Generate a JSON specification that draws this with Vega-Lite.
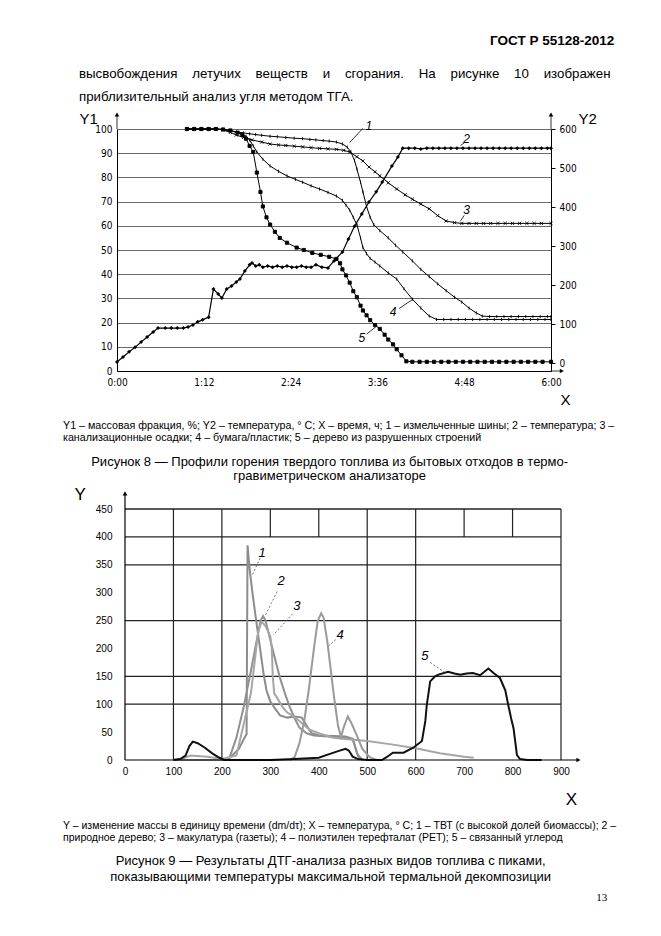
{
"$schema": "https://vega.github.io/schema/vega-lite/v6.json",
"background": "white",
"padding": {"left": 63, "top": 34, "right": 0, "bottom": 0},
"config": {
 "view": {"stroke": null},
 "axis": {"labelFont": "Liberation Sans", "labelColor": "black", "titleColor": "black", "domainColor": "black", "tickColor": "black", "titleFontWeight": "normal", "titleFont": "Liberation Sans", "labelOverlap": false},
 "title": {"color": "black", "fontWeight": "normal", "font": "Liberation Sans"},
 "concat": {"spacing": 0}
},
"title": {"text": "ГОСТ Р 55128-2012", "anchor": "end", "frame": "bounds", "dx": -2, "fontSize": 13.5, "fontWeight": "bold", "offset": 19},
"datasets": {
 "tga": [
  {"s":"1","m":58,"v":100},{"s":"1","m":64,"v":100},{"s":"1","m":70,"v":100},{"s":"1","m":76,"v":100},{"s":"1","m":82,"v":100},{"s":"1","m":88,"v":99.8},{"s":"1","m":94,"v":99.3},{"s":"1","m":99,"v":98.8},{"s":"1","m":105,"v":98.4},{"s":"1","m":110,"v":98},{"s":"1","m":115,"v":97.7},{"s":"1","m":120,"v":97.4},{"s":"1","m":127,"v":97},{"s":"1","m":133,"v":96.8},{"s":"1","m":140,"v":96.5},{"s":"1","m":147,"v":96.2},{"s":"1","m":154,"v":96},{"s":"1","m":160,"v":95.7},{"s":"1","m":165,"v":95.5},{"s":"1","m":171,"v":95.2},{"s":"1","m":176,"v":95},{"s":"1","m":182,"v":94.6},{"s":"1","m":187,"v":93.8},{"s":"1","m":191,"v":92.5},{"s":"1","m":194,"v":90.5},{"s":"1","m":197,"v":87},{"s":"1","m":199,"v":83.5},{"s":"1","m":202,"v":78},{"s":"1","m":204,"v":74},{"s":"1","m":207,"v":68},{"s":"1","m":210,"v":63.5},{"s":"1","m":213,"v":60.5},{"s":"1","m":218,"v":58},{"s":"1","m":225,"v":55},{"s":"1","m":231,"v":52},{"s":"1","m":237,"v":49.2},{"s":"1","m":245,"v":45.5},{"s":"1","m":252,"v":42},{"s":"1","m":259,"v":39},{"s":"1","m":266,"v":36},{"s":"1","m":273,"v":33.2},{"s":"1","m":280,"v":30.5},{"s":"1","m":286,"v":28.5},{"s":"1","m":292,"v":26},{"s":"1","m":298,"v":24},{"s":"1","m":303,"v":22.7},{"s":"1","m":309,"v":22.5},{"s":"1","m":315,"v":22.5},{"s":"1","m":321,"v":22.5},{"s":"1","m":327,"v":22.5},{"s":"1","m":333,"v":22.5},{"s":"1","m":339,"v":22.5},{"s":"1","m":345,"v":22.5},{"s":"1","m":351,"v":22.5},{"s":"1","m":357,"v":22.5},{"s":"1","m":360,"v":22.5},
  {"s":"3","m":58,"v":100},{"s":"3","m":64,"v":100},{"s":"3","m":70,"v":100},{"s":"3","m":76,"v":100},{"s":"3","m":82,"v":100},{"s":"3","m":88,"v":99.6},{"s":"3","m":94,"v":98.6},{"s":"3","m":99,"v":97.5},{"s":"3","m":105,"v":96.5},{"s":"3","m":112,"v":95.5},{"s":"3","m":120,"v":94.6},{"s":"3","m":127,"v":93.8},{"s":"3","m":134,"v":93.4},{"s":"3","m":140,"v":93.2},{"s":"3","m":147,"v":92.9},{"s":"3","m":154,"v":92.6},{"s":"3","m":161,"v":92.3},{"s":"3","m":168,"v":92},{"s":"3","m":175,"v":91.8},{"s":"3","m":182,"v":91.6},{"s":"3","m":188,"v":91.2},{"s":"3","m":193,"v":90.5},{"s":"3","m":199,"v":88.5},{"s":"3","m":204,"v":86.8},{"s":"3","m":209,"v":84.3},{"s":"3","m":214,"v":82.3},{"s":"3","m":218,"v":80.6},{"s":"3","m":225,"v":77.8},{"s":"3","m":232,"v":75.2},{"s":"3","m":239,"v":72.8},{"s":"3","m":245,"v":71},{"s":"3","m":252,"v":69},{"s":"3","m":259,"v":67},{"s":"3","m":266,"v":64.2},{"s":"3","m":273,"v":62},{"s":"3","m":280,"v":61.3},{"s":"3","m":286,"v":61},{"s":"3","m":292,"v":61},{"s":"3","m":298,"v":61},{"s":"3","m":304,"v":61},{"s":"3","m":310,"v":61},{"s":"3","m":316,"v":61},{"s":"3","m":322,"v":61},{"s":"3","m":328,"v":61},{"s":"3","m":334,"v":61},{"s":"3","m":340,"v":61},{"s":"3","m":346,"v":61},{"s":"3","m":352,"v":61},{"s":"3","m":360,"v":61},
  {"s":"4","m":58,"v":100},{"s":"4","m":64,"v":100},{"s":"4","m":70,"v":100},{"s":"4","m":76,"v":100},{"s":"4","m":82,"v":100},{"s":"4","m":88,"v":99.8},{"s":"4","m":94,"v":99.3},{"s":"4","m":100,"v":98.5},{"s":"4","m":104,"v":97.8},{"s":"4","m":107,"v":97},{"s":"4","m":110,"v":95.5},{"s":"4","m":113,"v":93},{"s":"4","m":116,"v":90.5},{"s":"4","m":121,"v":87.5},{"s":"4","m":127,"v":84.7},{"s":"4","m":134,"v":82.5},{"s":"4","m":141,"v":80.6},{"s":"4","m":148,"v":79.2},{"s":"4","m":154,"v":78},{"s":"4","m":161,"v":76.5},{"s":"4","m":168,"v":75.2},{"s":"4","m":175,"v":73.8},{"s":"4","m":182,"v":72.3},{"s":"4","m":187,"v":70.5},{"s":"4","m":190,"v":68.5},{"s":"4","m":193,"v":66.5},{"s":"4","m":196,"v":63.5},{"s":"4","m":199,"v":60.5},{"s":"4","m":202,"v":55},{"s":"4","m":204,"v":51},{"s":"4","m":207,"v":48.5},{"s":"4","m":210,"v":46.5},{"s":"4","m":214,"v":45},{"s":"4","m":218,"v":43.4},{"s":"4","m":225,"v":40.5},{"s":"4","m":232,"v":38},{"s":"4","m":238,"v":34},{"s":"4","m":245,"v":29.7},{"s":"4","m":252,"v":26},{"s":"4","m":259,"v":22.7},{"s":"4","m":265,"v":21.3},{"s":"4","m":271,"v":21.3},{"s":"4","m":277,"v":21.3},{"s":"4","m":283,"v":21.3},{"s":"4","m":289,"v":21.3},{"s":"4","m":295,"v":21.3},{"s":"4","m":301,"v":21.3},{"s":"4","m":307,"v":21.3},{"s":"4","m":313,"v":21.3},{"s":"4","m":319,"v":21.3},{"s":"4","m":325,"v":21.3},{"s":"4","m":331,"v":21.3},{"s":"4","m":337,"v":21.3},{"s":"4","m":343,"v":21.3},{"s":"4","m":349,"v":21.3},{"s":"4","m":355,"v":21.3},{"s":"4","m":360,"v":21.3},
  {"s":"5","m":58,"v":100},{"s":"5","m":64,"v":100},{"s":"5","m":70,"v":100},{"s":"5","m":76,"v":100},{"s":"5","m":82,"v":100},{"s":"5","m":88,"v":99.8},{"s":"5","m":94,"v":99.4},{"s":"5","m":100,"v":98.5},{"s":"5","m":104,"v":97.5},{"s":"5","m":107,"v":96},{"s":"5","m":110,"v":93},{"s":"5","m":113,"v":90.5},{"s":"5","m":116,"v":82},{"s":"5","m":119,"v":74},{"s":"5","m":121,"v":68},{"s":"5","m":124,"v":63.5},{"s":"5","m":127,"v":60.5},{"s":"5","m":131,"v":57.5},{"s":"5","m":135,"v":55},{"s":"5","m":141,"v":53},{"s":"5","m":149,"v":51},{"s":"5","m":155,"v":50},{"s":"5","m":162,"v":48.8},{"s":"5","m":169,"v":48},{"s":"5","m":176,"v":47.2},{"s":"5","m":182,"v":46.3},{"s":"5","m":185,"v":44.5},{"s":"5","m":187,"v":42},{"s":"5","m":190,"v":39.5},{"s":"5","m":193,"v":36.5},{"s":"5","m":196,"v":33},{"s":"5","m":199,"v":30.5},{"s":"5","m":202,"v":27},{"s":"5","m":204,"v":25},{"s":"5","m":207,"v":23},{"s":"5","m":210,"v":21},{"s":"5","m":214,"v":19},{"s":"5","m":218,"v":17.4},{"s":"5","m":222,"v":15},{"s":"5","m":225,"v":13},{"s":"5","m":229,"v":11},{"s":"5","m":232,"v":9},{"s":"5","m":236,"v":6.5},{"s":"5","m":240,"v":4},{"s":"5","m":245,"v":3.8},{"s":"5","m":251,"v":3.8},{"s":"5","m":257,"v":3.8},{"s":"5","m":263,"v":3.8},{"s":"5","m":269,"v":3.8},{"s":"5","m":275,"v":3.8},{"s":"5","m":281,"v":3.8},{"s":"5","m":287,"v":3.8},{"s":"5","m":293,"v":3.8},{"s":"5","m":299,"v":3.8},{"s":"5","m":305,"v":3.8},{"s":"5","m":311,"v":3.8},{"s":"5","m":317,"v":3.8},{"s":"5","m":323,"v":3.8},{"s":"5","m":329,"v":3.8},{"s":"5","m":335,"v":3.8},{"s":"5","m":341,"v":3.8},{"s":"5","m":347,"v":3.8},{"s":"5","m":353,"v":3.8},{"s":"5","m":360,"v":3.8}
 ],
 "temp": [
  {"m":0,"t":3},{"m":5,"t":16},{"m":10,"t":29},{"m":15,"t":41},{"m":20,"t":54},{"m":25,"t":67},{"m":30,"t":80},{"m":34,"t":90},{"m":40,"t":90},{"m":45,"t":90},{"m":50,"t":90},{"m":55,"t":90},{"m":59,"t":93},{"m":63,"t":98},{"m":67,"t":106},{"m":71,"t":111},{"m":76,"t":118},{"m":80,"t":190},{"m":84,"t":177},{"m":87,"t":167},{"m":91,"t":190},{"m":95,"t":198},{"m":99,"t":208},{"m":102,"t":216},{"m":106,"t":236},{"m":110,"t":252},{"m":112,"t":257},{"m":115,"t":249},{"m":118,"t":252},{"m":121,"t":246},{"m":125,"t":249},{"m":129,"t":246},{"m":133,"t":249},{"m":137,"t":246},{"m":141,"t":249},{"m":145,"t":246},{"m":149,"t":246},{"m":153,"t":249},{"m":157,"t":246},{"m":161,"t":246},{"m":165,"t":252},{"m":170,"t":246},{"m":175,"t":244},{"m":180,"t":262},{"m":187,"t":285},{"m":192,"t":318},{"m":197,"t":351},{"m":203,"t":382},{"m":209,"t":413},{"m":215,"t":439},{"m":220,"t":464},{"m":228,"t":505},{"m":233,"t":528},{"m":237,"t":551},{"m":242,"t":551},{"m":247,"t":551},{"m":252,"t":549},{"m":257,"t":551},{"m":262,"t":551},{"m":267,"t":551},{"m":272,"t":551},{"m":277,"t":551},{"m":282,"t":551},{"m":287,"t":551},{"m":292,"t":551},{"m":297,"t":551},{"m":302,"t":551},{"m":307,"t":551},{"m":312,"t":551},{"m":317,"t":551},{"m":322,"t":551},{"m":327,"t":551},{"m":332,"t":551},{"m":337,"t":551},{"m":342,"t":551},{"m":347,"t":551},{"m":352,"t":551},{"m":357,"t":551},{"m":360,"t":551}
 ],
 "lab1": [{"k":"1","m":209,"v":101.2},{"k":"2","m":290,"v":96},{"k":"3","m":290,"v":66.5},{"k":"4","m":229,"v":24.4},{"k":"5","m":203,"v":13.6}],
 "lead1": [{"m":204,"v":100.3,"m2":193,"v2":94.4},{"m":288,"v":94.3,"m2":285,"v2":93.2},{"m":288,"v":64.3,"m2":285,"v2":62},{"m":234,"v":25.8,"m2":245,"v2":29.5},{"m":207,"v":15.2,"m2":216,"v2":18.8},{"m":0,"v":100,"m2":0,"v2":106},{"m":360,"v":100,"m2":360,"v2":106},{"m":360,"v":0,"m2":369,"v2":0}],
 "arr1": [{"m":0,"v":106,"sh":"triangle-up"},{"m":360,"v":106,"sh":"triangle-up"},{"m":369,"v":0,"sh":"triangle-right"}],
 "hgrid": [{"g":100,"a":0,"b":900},{"g":150,"a":0,"b":900},{"g":250,"a":0,"b":900},{"g":350,"a":0,"b":900},{"g":400,"a":0,"b":900},{"g":450,"a":0,"b":900}],
 "vgrid": [{"g":100,"a":0,"b":450},{"g":200,"a":0,"b":450},{"g":300,"a":400,"b":450},{"g":400,"a":400,"b":450},{"g":500,"a":0,"b":450},{"g":600,"a":0,"b":450},{"g":700,"a":400,"b":450},{"g":800,"a":400,"b":450},{"g":900,"a":0,"b":450}],
 "dtg": [
  {"s":"1","T":100,"v":0},{"s":"1","T":200,"v":0},{"s":"1","T":215,"v":3},{"s":"1","T":235,"v":20},{"s":"1","T":248,"v":42},{"s":"1","T":251,"v":46},{"s":"1","T":252,"v":220},{"s":"1","T":253,"v":385},{"s":"1","T":257,"v":345},{"s":"1","T":263,"v":300},{"s":"1","T":270,"v":255},{"s":"1","T":278,"v":205},{"s":"1","T":286,"v":155},{"s":"1","T":292,"v":125},{"s":"1","T":300,"v":105},{"s":"1","T":310,"v":92},{"s":"1","T":320,"v":80},{"s":"1","T":335,"v":76},{"s":"1","T":350,"v":78},{"s":"1","T":365,"v":76},{"s":"1","T":375,"v":62},{"s":"1","T":385,"v":48},{"s":"1","T":400,"v":44},{"s":"1","T":430,"v":43},{"s":"1","T":455,"v":42},{"s":"1","T":470,"v":38},{"s":"1","T":478,"v":15},{"s":"1","T":485,"v":0},
  {"s":"2","T":100,"v":0},{"s":"2","T":200,"v":0},{"s":"2","T":215,"v":2},{"s":"2","T":230,"v":40},{"s":"2","T":245,"v":95},{"s":"2","T":260,"v":160},{"s":"2","T":272,"v":215},{"s":"2","T":280,"v":250},{"s":"2","T":285,"v":258},{"s":"2","T":290,"v":250},{"s":"2","T":300,"v":215},{"s":"2","T":310,"v":180},{"s":"2","T":320,"v":147},{"s":"2","T":330,"v":120},{"s":"2","T":340,"v":95},{"s":"2","T":350,"v":75},{"s":"2","T":360,"v":58},{"s":"2","T":375,"v":48},{"s":"2","T":390,"v":44},{"s":"2","T":420,"v":42},{"s":"2","T":450,"v":40},{"s":"2","T":470,"v":38},{"s":"2","T":480,"v":10},{"s":"2","T":490,"v":0},
  {"s":"3","T":100,"v":0},{"s":"3","T":120,"v":3},{"s":"3","T":135,"v":8},{"s":"3","T":170,"v":6},{"s":"3","T":200,"v":2},{"s":"3","T":230,"v":8},{"s":"3","T":260,"v":120},{"s":"3","T":275,"v":230},{"s":"3","T":282,"v":248},{"s":"3","T":290,"v":240},{"s":"3","T":300,"v":222},{"s":"3","T":303,"v":200},{"s":"3","T":305,"v":150},{"s":"3","T":308,"v":120},{"s":"3","T":315,"v":110},{"s":"3","T":325,"v":95},{"s":"3","T":335,"v":85},{"s":"3","T":345,"v":80},{"s":"3","T":360,"v":70},{"s":"3","T":380,"v":55},{"s":"3","T":400,"v":48},{"s":"3","T":430,"v":40},{"s":"3","T":460,"v":37},{"s":"3","T":500,"v":34},{"s":"3","T":550,"v":28},{"s":"3","T":600,"v":21},{"s":"3","T":650,"v":12},{"s":"3","T":700,"v":6},{"s":"3","T":720,"v":4},
  {"s":"4","T":340,"v":0},{"s":"4","T":350,"v":5},{"s":"4","T":360,"v":30},{"s":"4","T":370,"v":70},{"s":"4","T":380,"v":130},{"s":"4","T":390,"v":200},{"s":"4","T":398,"v":250},{"s":"4","T":405,"v":263},{"s":"4","T":410,"v":255},{"s":"4","T":418,"v":210},{"s":"4","T":425,"v":160},{"s":"4","T":432,"v":110},{"s":"4","T":440,"v":60},{"s":"4","T":446,"v":42},{"s":"4","T":452,"v":60},{"s":"4","T":460,"v":78},{"s":"4","T":468,"v":65},{"s":"4","T":478,"v":45},{"s":"4","T":490,"v":20},{"s":"4","T":505,"v":5},{"s":"4","T":520,"v":0},
  {"s":"5","T":100,"v":0},{"s":"5","T":115,"v":2},{"s":"5","T":125,"v":8},{"s":"5","T":133,"v":25},{"s":"5","T":140,"v":33},{"s":"5","T":150,"v":30},{"s":"5","T":165,"v":22},{"s":"5","T":180,"v":12},{"s":"5","T":195,"v":4},{"s":"5","T":205,"v":0},{"s":"5","T":300,"v":0},{"s":"5","T":350,"v":2},{"s":"5","T":400,"v":4},{"s":"5","T":420,"v":10},{"s":"5","T":440,"v":16},{"s":"5","T":455,"v":20},{"s":"5","T":462,"v":17},{"s":"5","T":470,"v":6},{"s":"5","T":480,"v":2},{"s":"5","T":500,"v":0},{"s":"5","T":530,"v":0},{"s":"5","T":540,"v":5},{"s":"5","T":553,"v":13},{"s":"5","T":575,"v":13},{"s":"5","T":595,"v":22},{"s":"5","T":613,"v":34},{"s":"5","T":620,"v":70},{"s":"5","T":623,"v":99},{"s":"5","T":630,"v":141},{"s":"5","T":640,"v":150},{"s":"5","T":647,"v":153},{"s":"5","T":667,"v":158},{"s":"5","T":680,"v":155},{"s":"5","T":692,"v":153},{"s":"5","T":705,"v":155},{"s":"5","T":718,"v":156},{"s":"5","T":733,"v":152},{"s":"5","T":750,"v":164},{"s":"5","T":762,"v":155},{"s":"5","T":774,"v":147},{"s":"5","T":785,"v":125},{"s":"5","T":791,"v":99},{"s":"5","T":797,"v":75},{"s":"5","T":802,"v":57},{"s":"5","T":809,"v":9},{"s":"5","T":815,"v":2},{"s":"5","T":830,"v":0},{"s":"5","T":860,"v":0}
 ],
 "lab2": [{"k":"1","T":283,"v":372},{"k":"2","T":322,"v":321},{"k":"3","T":355,"v":276},{"k":"4","T":444,"v":224},{"k":"5","T":619,"v":187}],
 "lead2": [{"T":279,"v":362,"T2":262,"v2":330},{"T":314,"v":302,"T2":289,"v2":258},{"T":346,"v":262,"T2":306,"v2":224},{"T":435,"v":216,"T2":421,"v2":205},{"T":630,"v":175,"T2":660,"v2":157}],
 "axl2": [{"T":0,"v":0,"T2":0,"v2":476},{"T":0,"v":0,"T2":934,"v2":0}],
 "arr2": [{"T":0,"v":478,"sh":"triangle-up"},{"T":936,"v":0,"sh":"triangle-right"}]
},
"vconcat": [{
 "title": {"text": "13", "orient": "bottom", "anchor": "end", "frame": "bounds", "dx": -9, "font": "Liberation Serif", "fontSize": 11, "offset": 8},
 "spacing": 2,
 "vconcat": [
  {
   "title": {"text": ["Рисунок 8 — Профили горения твердого топлива из бытовых отходов в термо-", "гравиметрическом анализаторе"], "orient": "bottom", "anchor": "middle", "frame": "bounds", "dx": -9, "fontSize": 13, "lineHeight": 14, "offset": 12.5},
   "vconcat": [{
    "title": {"text": ["Y1 – массовая фракция, %; Y2 – температура, ° С; X – время, ч; 1 – измельченные шины; 2 – температура; 3 –", "канализационные осадки; 4 – бумага/пластик; 5 – дерево из разрушенных строений"], "orient": "bottom", "anchor": "start", "frame": "bounds", "dx": -16, "fontSize": 10.7, "lineHeight": 12, "offset": 14.3},
    "vconcat": [{
     "width": 434, "height": 242,
     "title": {"text": ["высвобождения \u00a0\u00a0\u00a0летучих \u00a0\u00a0\u00a0веществ \u00a0\u00a0\u00a0и \u00a0\u00a0\u00a0сгорания. \u00a0\u00a0\u00a0На \u00a0\u00a0\u00a0рисунке \u00a0\u00a0\u00a010 \u00a0\u00a0\u00a0изображен", "приблизительный анализ угля методом ТГА."], "anchor": "start", "frame": "bounds", "dx": 0, "fontSize": 13.3, "lineHeight": 23, "offset": 8},
     "layer": [
      {
       "layer": [
        {"data": {"name": "tga"}, "mark": {"type": "line", "color": "black", "strokeWidth": 1},
         "encoding": {
          "x": {"field": "m", "type": "quantitative", "scale": {"domain": [0, 360], "nice": false},
                "axis": {"values": [0, 72, 144, 216, 288, 360], "tickCount": 20, "labelExpr": "floor(datum.value/60) + ':' + (datum.value%60 < 10 ? '0' : '') + (datum.value%60)", "grid": false, "ticks": false, "labelPadding": 6, "labelFontSize": 10, "labelFont": "Liberation Sans Narrow, DejaVu Sans Condensed, Roboto", "title": "X", "titleFontSize": 15, "titleFontWeight": 300, "titleX": 448, "titleY": 33, "titleAlign": "center", "titleBaseline": "alphabetic", "labelFlush": false, "labelOverlap": false}},
          "y": {"field": "v", "type": "quantitative", "scale": {"domain": [0, 100], "nice": false},
                "axis": {"values": [0,10,20,30,40,50,60,70,80,90,100], "tickCount": 20, "labelOverlap": false, "grid": true, "gridColor": "#444", "gridWidth": 0.8, "ticks": false, "labelPadding": 5, "labelFontSize": 10, "labelFont": "Liberation Sans Narrow, DejaVu Sans Condensed, Roboto", "title": "Y1", "titleAngle": 0, "titleX": -38, "titleY": -6, "titleAlign": "left", "titleBaseline": "alphabetic", "titleFontSize": 15, "titleFontWeight": 300}},
          "detail": {"field": "s"}}},
        {"data": {"name": "tga"}, "mark": {"type": "point", "fill": "black", "stroke": "black", "strokeWidth": 0.9, "opacity": 1},
         "encoding": {
          "x": {"field": "m", "type": "quantitative"},
          "y": {"field": "v", "type": "quantitative"},
          "shape": {"field": "s", "type": "nominal", "scale": {"domain": ["1", "3", "4", "5"], "range": ["M0,-1L0,1", "M-1,-1L1,1M-1,1L1,-1", "M0,-1L0,1", "square"]}, "legend": null},
          "size": {"value": 10}}},
        {"data": {"name": "lead1"}, "mark": {"type": "rule", "color": "black", "strokeWidth": 0.8},
         "encoding": {"x": {"field": "m", "type": "quantitative"}, "y": {"field": "v", "type": "quantitative"}, "x2": {"field": "m2"}, "y2": {"field": "v2"}}},
        {"data": {"name": "arr1"}, "mark": {"type": "point", "filled": true, "color": "black", "size": 22, "opacity": 1},
         "encoding": {"x": {"field": "m", "type": "quantitative"}, "y": {"field": "v", "type": "quantitative"}, "shape": {"field": "sh", "type": "nominal", "scale": null}}},
        {"data": {"name": "lab1"}, "mark": {"type": "text", "font": "Liberation Sans", "fontStyle": "italic", "fontSize": 12, "color": "black"},
         "encoding": {"x": {"field": "m", "type": "quantitative"}, "y": {"field": "v", "type": "quantitative"}, "text": {"field": "k"}}}
       ]
      },
      {
       "layer": [
        {"data": {"name": "temp"}, "mark": {"type": "line", "color": "black", "strokeWidth": 1.2},
         "encoding": {
          "x": {"field": "m", "type": "quantitative"},
          "y": {"field": "t", "type": "quantitative", "scale": {"domain": [-20, 600], "nice": false},
                "axis": {"orient": "right", "values": [0,100,200,300,400,500,600], "tickCount": 20, "labelOverlap": false, "grid": false, "ticks": true, "tickSize": 4, "labelPadding": 4, "labelFontSize": 10, "labelFont": "Liberation Sans Narrow, DejaVu Sans Condensed, Roboto", "title": "Y2", "titleAngle": 0, "titleX": 27, "titleY": -6, "titleAlign": "left", "titleBaseline": "alphabetic", "titleFontSize": 15, "titleFontWeight": 300}}}},
        {"data": {"name": "temp"}, "mark": {"type": "point", "shape": "diamond", "filled": true, "color": "black", "size": 16, "opacity": 1},
         "encoding": {"x": {"field": "m", "type": "quantitative"}, "y": {"field": "t", "type": "quantitative"}}}
       ]
      }
     ],
     "resolve": {"scale": {"y": "independent"}}
    }]
   }]
  },
  {
   "title": {"text": ["Рисунок 9 — Результаты ДТГ-анализа разных видов топлива с пиками,", "показывающими температуры максимальной термальной декомпозиции"], "orient": "bottom", "anchor": "middle", "frame": "bounds", "dx": -9, "fontSize": 13, "lineHeight": 16.5, "offset": 11.5},
   "vconcat": [{
    "title": {"text": ["Y – изменение массы в единицу времени (dm/dτ); X – температура, ° С; 1 – ТВТ (с высокой долей биомассы); 2 –", "природное дерево; 3 – макулатура (газеты); 4 – полиэтилен терефталат (PET); 5 – связанный углерод"], "orient": "bottom", "anchor": "start", "frame": "bounds", "dx": -11, "fontSize": 10.5, "lineHeight": 12, "offset": 13.5},
    "vconcat": [{
     "width": 444, "height": 251,
     "layer": [
      {"data": {"name": "hgrid"}, "mark": {"type": "rule", "color": "#222", "strokeWidth": 1.3},
       "encoding": {"y": {"field": "g", "type": "quantitative", "scale": {"domain": [0, 450], "nice": false},
         "axis": {"values": [0,50,100,150,200,250,300,350,400,450], "tickCount": 20, "labelOverlap": false, "grid": false, "ticks": false, "domain": false, "labelPadding": 5, "labelFontSize": 10, "title": "Y", "titleAngle": 0, "titleX": -43, "titleY": -10, "titleAlign": "left", "titleBaseline": "alphabetic", "titleFontSize": 17}},
        "x": {"field": "a", "type": "quantitative", "scale": {"domain": [-16.5, 900], "nice": false, "zero": false},
         "axis": {"values": [0,100,200,300,400,500,600,700,800,900], "tickCount": 20, "labelOverlap": false, "grid": false, "ticks": false, "domain": false, "labelPadding": 6, "labelFontSize": 10, "labelFlush": false, "title": "X", "titleX": 454, "titleY": 44, "titleAlign": "center", "titleBaseline": "alphabetic", "titleFontSize": 17}},
        "x2": {"field": "b"}}},
      {"data": {"name": "vgrid"}, "mark": {"type": "rule", "color": "#222", "strokeWidth": 1.2},
       "encoding": {"x": {"field": "g", "type": "quantitative"}, "y": {"field": "a", "type": "quantitative"}, "y2": {"field": "b"}}},
      {"data": {"name": "dtg"}, "mark": {"type": "line", "strokeWidth": 2},
       "encoding": {"x": {"field": "T", "type": "quantitative"}, "y": {"field": "v", "type": "quantitative"},
        "color": {"field": "s", "type": "nominal", "scale": {"domain": ["1", "2", "3", "4", "5"], "range": ["#8c8c8c", "#909090", "#a6a6a6", "#9a9a9a", "#111111"]}, "legend": null}}},
      {"data": {"name": "lead2"}, "mark": {"type": "rule", "color": "#555", "strokeWidth": 0.8, "strokeDash": [2, 2]},
       "encoding": {"x": {"field": "T", "type": "quantitative"}, "y": {"field": "v", "type": "quantitative"}, "x2": {"field": "T2"}, "y2": {"field": "v2"}}},
      {"data": {"name": "axl2"}, "mark": {"type": "rule", "color": "black", "strokeWidth": 1.2},
       "encoding": {"x": {"field": "T", "type": "quantitative"}, "y": {"field": "v", "type": "quantitative"}, "x2": {"field": "T2"}, "y2": {"field": "v2"}}},
      {"data": {"name": "arr2"}, "mark": {"type": "point", "filled": true, "color": "black", "size": 22, "opacity": 1},
       "encoding": {"x": {"field": "T", "type": "quantitative"}, "y": {"field": "v", "type": "quantitative"}, "shape": {"field": "sh", "type": "nominal", "scale": null}}},
      {"data": {"name": "lab2"}, "mark": {"type": "text", "font": "Liberation Sans", "fontStyle": "italic", "fontSize": 13, "color": "black"},
       "encoding": {"x": {"field": "T", "type": "quantitative"}, "y": {"field": "v", "type": "quantitative"}, "text": {"field": "k"}}}
     ]
    }]
   }]
  }
 ]
}]
}
